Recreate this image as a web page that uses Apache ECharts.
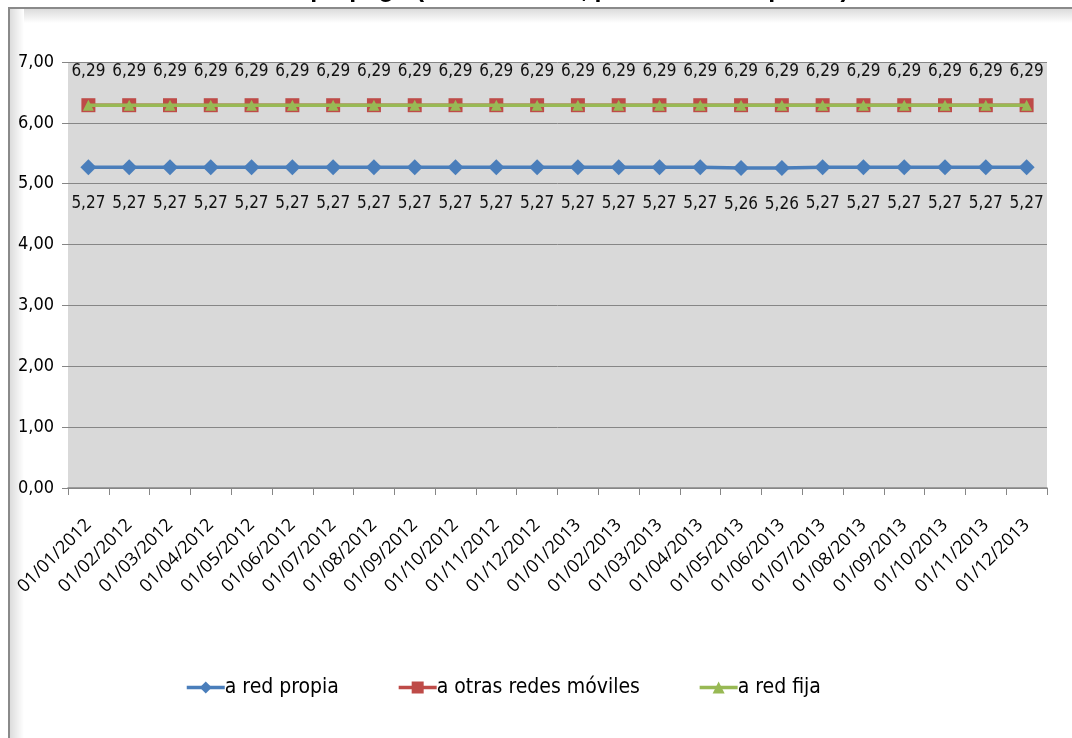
<!DOCTYPE html>
<html>
<head>
<meta charset="utf-8">
<script src="https://cdn.jsdelivr.net/npm/echarts@6/dist/echarts.min.js"></script>
<style>
  html, body { margin: 0; padding: 0; background: #fff; }
  #chart { width: 1072px; height: 738px; }
</style>
</head>
<body>
<div id="chart"></div>
<script>
// fechas del eje x
var fechas = ['01/01/2012', '01/02/2012', '01/03/2012', '01/04/2012', '01/05/2012', '01/06/2012',
  '01/07/2012', '01/08/2012', '01/09/2012', '01/10/2012', '01/11/2012', '01/12/2012',
  '01/01/2013', '01/02/2013', '01/03/2013', '01/04/2013', '01/05/2013', '01/06/2013',
  '01/07/2013', '01/08/2013', '01/09/2013', '01/10/2013', '01/11/2013', '01/12/2013'];

var redPropia = [5.27, 5.27, 5.27, 5.27, 5.27, 5.27, 5.27, 5.27, 5.27, 5.27, 5.27, 5.27,
  5.27, 5.27, 5.27, 5.27, 5.26, 5.26, 5.27, 5.27, 5.27, 5.27, 5.27, 5.27];
var otrasRedes = [6.29, 6.29, 6.29, 6.29, 6.29, 6.29, 6.29, 6.29, 6.29, 6.29, 6.29, 6.29,
  6.29, 6.29, 6.29, 6.29, 6.29, 6.29, 6.29, 6.29, 6.29, 6.29, 6.29, 6.29];
var redFija = [6.29, 6.29, 6.29, 6.29, 6.29, 6.29, 6.29, 6.29, 6.29, 6.29, 6.29, 6.29,
  6.29, 6.29, 6.29, 6.29, 6.29, 6.29, 6.29, 6.29, 6.29, 6.29, 6.29, 6.29];

var nombres = ['a red propia', 'a otras redes móviles', 'a red fija'];

var fuente = '"Liberation Sans Narrow", "DejaVu Sans Condensed", sans-serif';

function coma(v) {
  return v.toFixed(2).replace('.', ',');
}

var myChart = echarts.init(document.getElementById('chart'));

var option = {
  animation: false,
  backgroundColor: '#ffffff',
  title: {
    text: 'Tarifas prepago (Tarifa normal, por minuto en pesos)',
    left: 'center',
    top: -27,
    textStyle: {
      fontFamily: '"Liberation Sans", sans-serif',
      fontWeight: 'bold',
      fontSize: 25,
      lineHeight: 25,
      color: '#000'
    }
  },
  graphic: [
    // sombra del marco
    {
      type: 'rect', silent: true, z: -1,
      shape: { x: 10, y: 9, width: 1062, height: 14 },
      style: { fill: new echarts.graphic.LinearGradient(0, 0, 0, 1, [
        { offset: 0, color: '#dcdcdc' }, { offset: 1, color: '#ffffff' }]) }
    },
    {
      type: 'rect', silent: true, z: -1,
      shape: { x: 10, y: 9, width: 14, height: 729 },
      style: { fill: new echarts.graphic.LinearGradient(0, 0, 1, 0, [
        { offset: 0, color: '#dcdcdc' }, { offset: 1, color: '#ffffff' }]) }
    },
    {
      type: 'rect', silent: true,
      shape: { x: 9, y: 8, width: 1100, height: 800 },
      style: { fill: 'none', stroke: '#8a8a8a', lineWidth: 2 }
    }
  ],
  legend: {
    bottom: 35,
    left: 180,
    itemGap: 58,
    itemWidth: 38,
    itemHeight: 15,
    data: nombres,
    lineStyle: { width: 3.5 },
    textStyle: { fontFamily: fuente, fontSize: 21, color: '#000', padding: [0, 0, 0, -5] }
  },
  grid: {
    left: 68,
    right: 25,
    top: 62,
    bottom: 250,
    show: true,
    backgroundColor: '#d9d9d9',
    borderWidth: 0
  },
  xAxis: {
    type: 'category',
    data: fechas,
    boundaryGap: true,
    axisLine: { lineStyle: { color: '#868686', width: 1.5 } },
    axisTick: { show: true, length: 7, interval: 0, lineStyle: { color: '#868686' } },
    axisLabel: {
      interval: 0,
      rotate: 45,
      margin: 34,
      fontFamily: '"Open Sans", sans-serif',
      fontSize: 18,
      color: '#000'
    }
  },
  yAxis: {
    type: 'value',
    min: 0,
    max: 7,
    interval: 1,
    axisLine: { show: false },
    axisTick: { show: true, length: 6, lineStyle: { color: '#868686' } },
    splitLine: { lineStyle: { color: '#868686', width: 1 } },
    axisLabel: {
      margin: 14,
      fontFamily: fuente,
      fontSize: 18,
      color: '#000',
      formatter: function (v) { return coma(v); }
    }
  },
  series: [
    {
      name: nombres[0],
      type: 'line',
      data: redPropia,
      symbol: 'diamond',
      symbolSize: 16,
      color: '#4a7ebb',
      lineStyle: { width: 3.5, color: '#4a7ebb' },
      label: {
        show: true,
        position: 'bottom',
        distance: 20,
        fontFamily: fuente,
        fontSize: 17,
        color: '#111',
        formatter: function (p) { return coma(p.value); }
      },
      z: 3
    },
    {
      name: nombres[1],
      type: 'line',
      data: otrasRedes,
      symbol: 'rect',
      symbolSize: 14,
      color: '#be4b48',
      lineStyle: { width: 3.5, color: '#be4b48' },
      label: {
        show: true,
        position: 'top',
        distance: 18,
        fontFamily: fuente,
        fontSize: 17,
        color: '#111',
        formatter: function (p) { return coma(p.value); }
      },
      z: 3
    },
    {
      name: nombres[2],
      type: 'line',
      data: redFija,
      symbol: 'triangle',
      symbolSize: 11,
      color: '#98b954',
      lineStyle: { width: 3.5, color: '#98b954' },
      label: { show: false },
      z: 4
    }
  ]
};

myChart.setOption(option);
</script>
</body>
</html>
